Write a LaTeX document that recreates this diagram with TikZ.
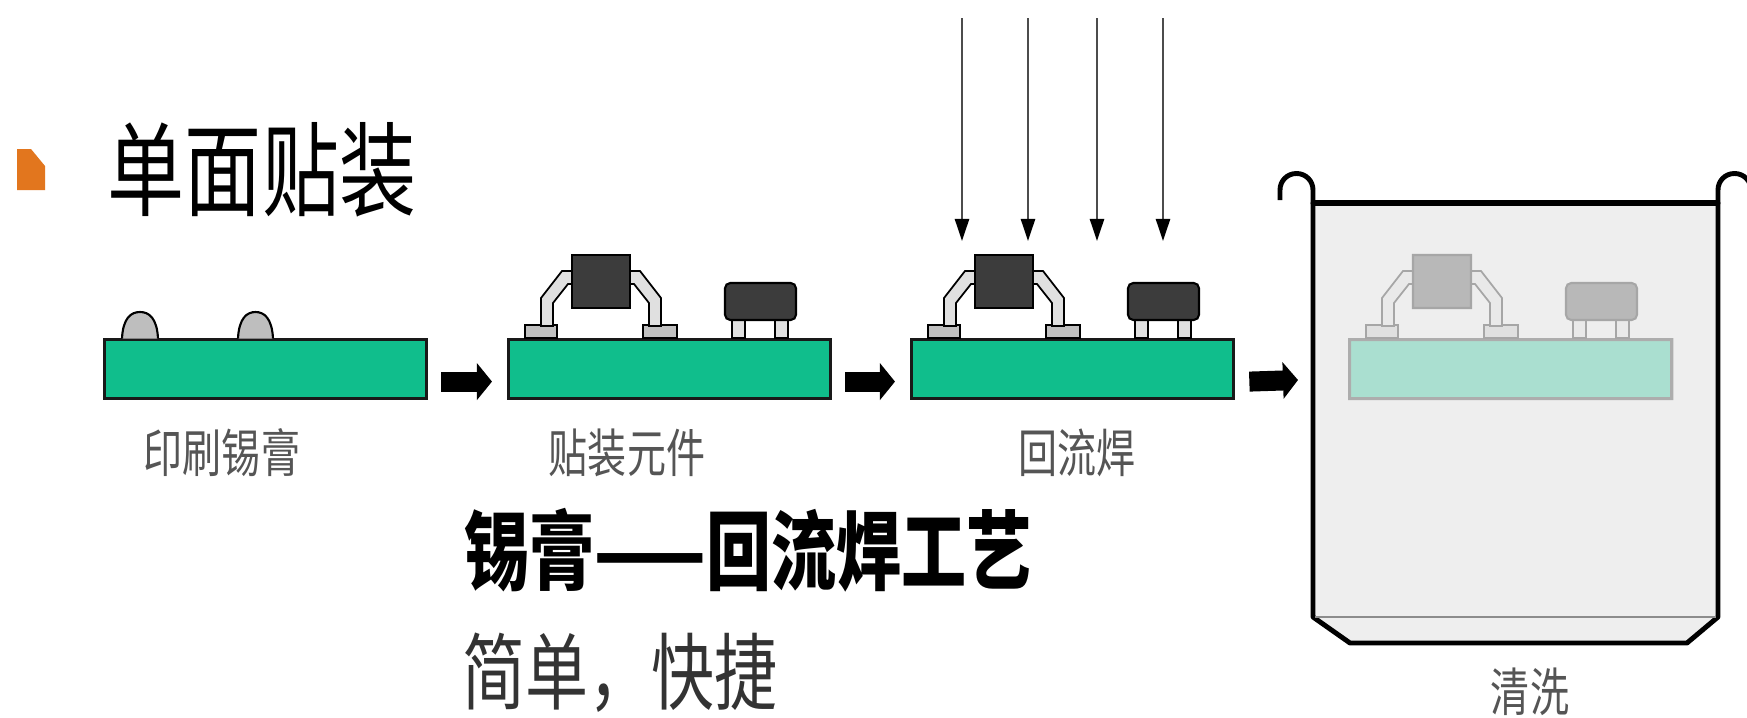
\documentclass[tikz,border=0pt]{standalone}
\usepackage{graphicx}
\usepackage{fontspec}
\newfontfamily\cjk{Noto Sans CJK SC}
\usetikzlibrary{arrows.meta,calc}

\definecolor{pcb}{HTML}{10BE8C}
\definecolor{bodyc}{HTML}{3C3C3C}
\definecolor{legc}{HTML}{E0E0E0}
\definecolor{padc}{HTML}{C0C0C0}
\definecolor{solderc}{HTML}{BEBEBE}
\definecolor{tankc}{HTML}{EEEEEE}
\definecolor{bulletc}{HTML}{E2761E}
\definecolor{stagec}{HTML}{555555}
\definecolor{subc}{HTML}{333333}

% CJK glyphs in this figure are set slightly taller than wide
\newcommand{\tallcjk}[1]{\scalebox{1}[1.33]{#1}}

\tikzset{
  board/.style={draw=black!90, line width=0.9pt, fill=pcb,
    minimum width=3.22cm, minimum height=0.59cm, inner sep=0pt,
    anchor=north west},
  pad/.style={draw=black, line width=0.5pt, fill=padc},
  leg/.style={draw=black, line width=0.5pt, fill=legc},
  pkg/.style={draw=black, line width=0.6pt, fill=bodyc},
  bump/.style={draw=black, line width=0.6pt, fill=solderc},
  heat/.style={draw=black!70, line width=0.7pt,
    -{Triangle[width=0.14cm,length=0.22cm,color=black]}},
  flow/.style={draw=black, line width=0.2cm,
    -{Triangle[width=0.36cm,length=0.15cm]}},
  tankline/.style={draw=black, line width=1.4pt},
  stagetext/.style={font=\cjk\fontsize{11.1pt}{13pt}\selectfont,
    text=stagec, inner sep=0pt},
  titletext/.style={font=\cjk\fontsize{21.9pt}{26pt}\selectfont,
    text=black, inner sep=0pt},
  headtext/.style={font=\cjk\bfseries\fontsize{18.5pt}{22pt}\selectfont,
    text=black, inner sep=0pt},
  subtext/.style={font=\cjk\fontsize{17.9pt}{22pt}\selectfont,
    text=subc, inner sep=0pt},
  % placed parts on a board, origin = board's top-left corner
  smtparts/.pic={
    % gull-wing IC: pads, legs, body
    \draw[pad] (18,-13) rectangle (50,0);
    \draw[pad] (136,-13) rectangle (170,0);
    \draw[leg] (65,-67) -- (55,-67) -- (34,-40) -- (34,-12) -- (46,-12)
      -- (46,-35) -- (61,-54) -- (65,-54) -- cycle;
    \draw[leg] (123,-67) -- (133,-67) -- (154,-40) -- (154,-12) -- (142,-12)
      -- (142,-35) -- (127,-54) -- (123,-54) -- cycle;
    \draw[pkg] (65,-83) rectangle (123,-30);
    % chip component with two terminals
    \draw[leg] (225,-18) rectangle (238,0);
    \draw[leg] (268,-18) rectangle (281,0);
    \draw[pkg, rounded corners=1.5pt] (218,-55) rectangle (289,-18);
  }
}

\begin{document}
\begin{tikzpicture}[x=0.01cm,y=-0.01cm]
\useasboundingbox (0,0) rectangle (1747,718);
\clip (0,0) rectangle (1747,718);
\fill[white] (0,0) rectangle (1747,718);

% heading with bullet
\fill[bulletc] (17,149) -- (31,149) -- (45,166) -- (45,190) -- (17,190) -- cycle;
\node[titletext] (title) at (262,170) {\tallcjk{单面贴装}};

% stage 1: printed solder paste
\node[board] (b1) at (103,338) {};
\draw[bump] (122,338.5) .. controls (123,318) and (131,312) .. (140,312)
  .. controls (149,312) and (157,318) .. (158,338.5);
\draw[bump] (238,338.5) .. controls (239,318) and (247,312) .. (255.5,312)
  .. controls (264,312) and (272,318) .. (273,338.5);
\node[stagetext] (t1) at (222,453) {\tallcjk{印刷锡膏}};

% stage 2: placed components
\node[board] (b2) at (507,338) {};
\pic at (b2.north west) {smtparts};
\node[stagetext] (t2) at (627,453) {\tallcjk{贴装元件}};

% stage 3: reflow, heat from above
\node[board] (b3) at (910,338) {};
\pic at (b3.north west) {smtparts};
\node[stagetext] (t3) at (1077,453) {\tallcjk{回流焊}};
\foreach \i/\x in {1/962,2/1028,3/1097,4/1163}{
  \coordinate (h\i s) at (\x,18);
  \coordinate (h\i e) at (\x,241);
  \draw[heat] (h\i s) -- (h\i e);
}

% stage 4: cleaning tank
\filldraw[tankc, draw=black, line width=1.4pt, line join=round]
  (1313,203) -- (1718,203) -- (1718,617) -- (1687,643) -- (1350,643)
  -- (1313,617) -- cycle;
\draw[black!45, line width=0.6pt] (1315,617) -- (1716,617);
\draw[black, line width=1.8pt] (1313,203) -- (1718,203);
\draw[tankline] (1313,204) -- (1313,190) .. controls (1313,181) and (1306,173.5)
  .. (1296.5,173.5) .. controls (1287,173.5) and (1280,181) .. (1280,190)
  -- (1280,200);
\draw[tankline] (1718,204) -- (1718,190) .. controls (1718,181) and (1725,173.5)
  .. (1734.5,173.5) .. controls (1744,173.5) and (1751,181) .. (1751,190)
  -- (1751,200);
\coordinate (tankin) at (1313,380);
\begin{scope}[transparency group, opacity=0.3]
  \node[board] (b4) at (1348,338) {};
  \pic at (b4.north west) {smtparts};
\end{scope}
\node[stagetext] (t4) at (1530,692) {\tallcjk{清洗}};

% process arrows
\draw[flow] ($(b1.east)+(13,12.5)$) -- ($(b2.west)+(-15,12.5)$);
\draw[flow] ($(b2.east)+(13,12.5)$) -- ($(b3.west)+(-15,12.5)$);
\draw[flow] ($(b3.east)+(14,12.5)$) -- ($(tankin)+(-15,0)$);

% caption of the process
\node[headtext] (head) at (748,550) {\tallcjk{锡膏——回流焊工艺}};
\node[subtext] (sub) at (620,673) {\tallcjk{简单，快捷}};
\end{tikzpicture}
\end{document}
